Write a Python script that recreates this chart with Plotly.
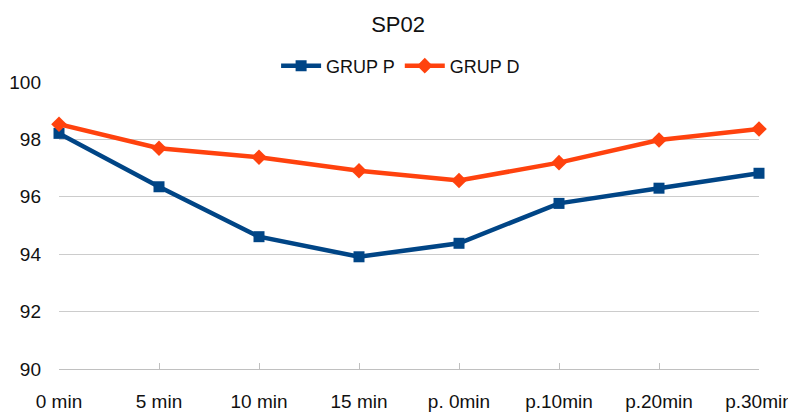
import plotly.graph_objects as go

categories = ['0 min', '5 min', '10 min', '15 min', 'p. 0min', 'p.10min', 'p.20min', 'p.30min']
grup_p = [98.21, 96.35, 94.61, 93.91, 94.38, 95.77, 96.30, 96.82]
grup_d = [98.53, 97.69, 97.38, 96.91, 96.57, 97.19, 97.98, 98.36]
y_ticks = [90, 92, 94, 96, 98, 100]

font_family = 'Liberation Sans, Arial, sans-serif'

fig = go.Figure()

fig.add_trace(go.Scatter(
    x=categories, y=grup_p, name='GRUP P',
    mode='lines+markers',
    line=dict(color='#004586', width=4.5),
    marker=dict(symbol='square', size=11, color='#004586'),
    cliponaxis=False
))
fig.add_trace(go.Scatter(
    x=categories, y=grup_d, name='GRUP D',
    mode='lines+markers',
    line=dict(color='#ff420e', width=4.5),
    marker=dict(symbol='diamond', size=12, color='#ff420e'),
    cliponaxis=False
))

# the page body has an 8px margin, so the figure is 8px smaller and shifted
fig.update_layout(
    width=788, height=404,
    margin=dict(l=51, r=37, t=74, b=43, autoexpand=False),
    paper_bgcolor='white', plot_bgcolor='white',
    font=dict(family=font_family, color='#111111'),
    title=dict(text='SP02', x=0.495, xref='container', xanchor='center',
               y=1 - 16 / 404, yref='container', yanchor='middle',
               font=dict(size=22, color='#111111')),
    legend=dict(orientation='h', x=0.488, xanchor='center', y=1.056, yanchor='middle',
                font=dict(size=18, color='#111111'), bgcolor='rgba(0,0,0,0)',
                itemwidth=40),
    showlegend=True,
)

fig.update_xaxes(
    type='category', range=[0, len(categories) - 1], automargin=False,
    showgrid=False, showline=True, linecolor='#c0c0c0', linewidth=1,
    ticks='inside', ticklen=6, tickcolor='#c0c0c0',
    tickfont=dict(size=19, color='#111111'),
    ticklabelstandoff=15,
)
fig.update_yaxes(
    range=[90, 100], tickvals=y_ticks, automargin=False,
    showgrid=True, gridcolor='#cccccc', gridwidth=1,
    zeroline=False, showline=False,
    tickfont=dict(size=19, color='#111111'),
    ticklabelstandoff=17,
)

fig.write_html("out.html")
